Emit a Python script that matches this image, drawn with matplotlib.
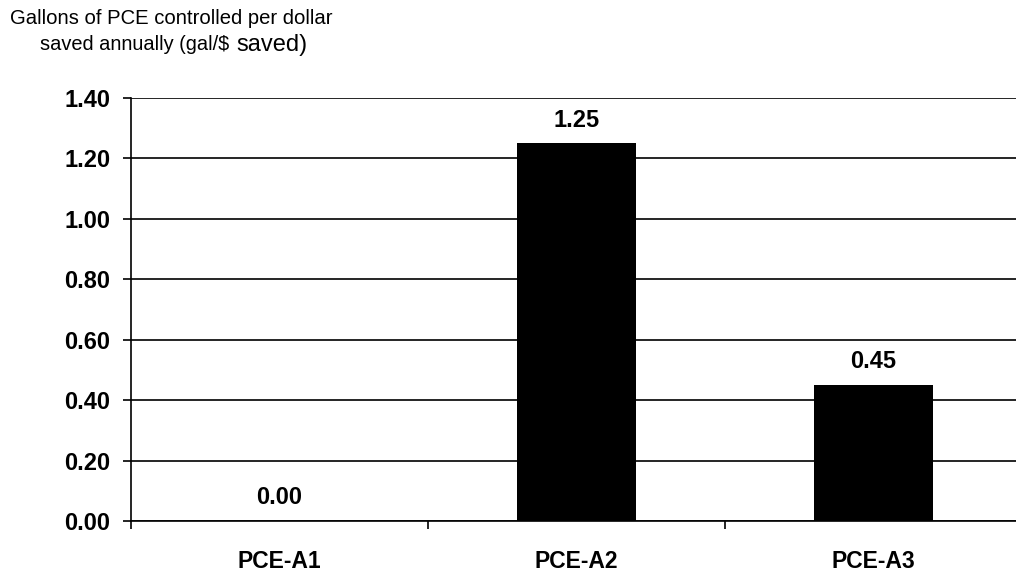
import matplotlib
matplotlib.use("Agg")
import matplotlib.pyplot as plt

categories = ["PCE-A1", "PCE-A2", "PCE-A3"]
values = [0.00, 1.25, 0.45]
value_labels = ["0.00", "1.25", "0.45"]
y_ticks = [0.00, 0.20, 0.40, 0.60, 0.80, 1.00, 1.20, 1.40]

plt.rcParams["font.family"] = ["Liberation Sans", "DejaVu Sans"]

fig = plt.figure(figsize=(10.16, 5.76), dpi=100)
ax = fig.add_axes([131 / 1016, 1 - 521 / 576, 891 / 1016, 423 / 576])

x = list(range(len(categories)))
ax.bar(x, values, width=0.404, color="black", zorder=3)

ax.set_xlim(-0.5, len(categories) - 0.5)
ax.set_ylim(0, 1.40)
ax.set_yticks(y_ticks)
ax.set_yticklabels([f"{t:.2f}" for t in y_ticks], fontsize=17, fontweight="bold")
ax.yaxis.grid(True, color="black", linewidth=1.2, zorder=1)
ax.set_axisbelow(True)

# category labels sit between the boundary ticks
ax.set_xticks([i + 0.5 for i in range(-1, len(categories))])
ax.set_xticklabels([""] * (len(categories) + 1))
ax.set_xticks(x, minor=True)
ax.set_xticklabels(categories, minor=True, fontsize=16.5, fontweight="bold")
ax.tick_params(axis="x", which="minor", length=0, pad=21)
ax.tick_params(axis="x", which="major", length=6, width=1.2, direction="out")
ax.tick_params(axis="y", length=6, width=1.2, direction="out", pad=9)

for s in ["top", "right"]:
    ax.spines[s].set_visible(False)
for s in ["left", "bottom"]:
    ax.spines[s].set_linewidth(1.2)

for xi, v, lab in zip(x, values, value_labels):
    ax.annotate(lab, (xi, v), xytext=(0, 12), textcoords="offset points",
                ha="center", va="baseline", fontsize=17, fontweight="bold")

fig.text(10 / 1016, 1 - 18 / 576, "Gallons of PCE controlled per dollar",
         fontsize=14.6, va="center", ha="left")
fig.text(40 / 1016, 1 - 45 / 576, "saved annually (gal/$",
         fontsize=14.4, va="center", ha="left")
fig.text(236 / 1016, 1 - 45 / 576, "saved)",
         fontsize=17, va="center", ha="left")

fig.savefig("out.png", dpi=100)
